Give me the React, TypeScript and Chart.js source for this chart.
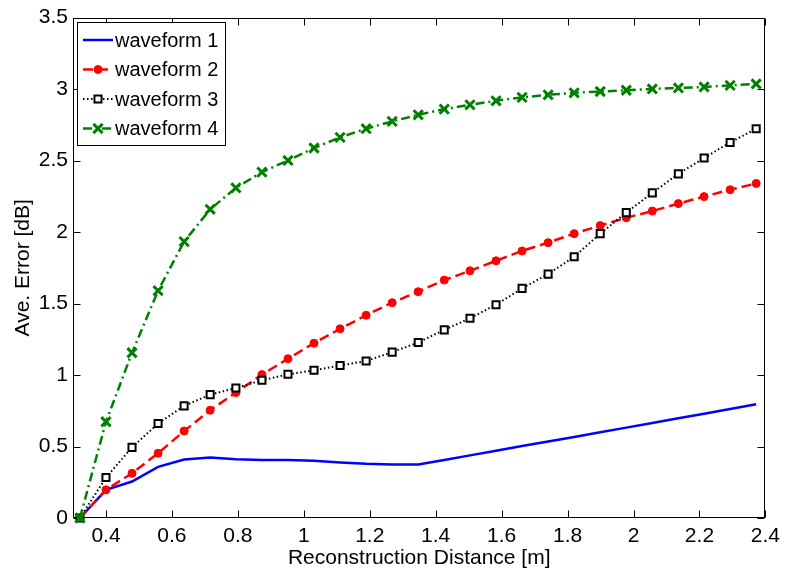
import React, { useEffect, useRef } from 'react';
import { Chart, registerables } from 'chart.js';

Chart.register(...registerables);

// ---- data ----
const xValues = [
  0.321, 0.400, 0.479, 0.558, 0.637, 0.716, 0.794, 0.873, 0.952, 1.031, 1.110, 1.189, 1.268, 1.347,
  1.426, 1.504, 1.583, 1.662, 1.741, 1.820, 1.899, 1.978, 2.057, 2.136, 2.214, 2.293, 2.372,
];
const waveform1 = [
  0, 0.197, 0.255, 0.358, 0.409, 0.423, 0.411, 0.406, 0.405, 0.401, 0.389, 0.379, 0.374, 0.374,
  0.406, 0.438, 0.470, 0.503, 0.535, 0.567, 0.600, 0.632, 0.664, 0.697, 0.729, 0.762, 0.796,
];
const waveform2 = [
  0, 0.197, 0.313, 0.453, 0.608, 0.754, 0.877, 1.003, 1.114, 1.223, 1.323, 1.418, 1.506, 1.583,
  1.664, 1.729, 1.799, 1.868, 1.926, 1.989, 2.045, 2.100, 2.147, 2.199, 2.248, 2.296, 2.340,
];
const waveform3 = [
  0, 0.283, 0.494, 0.661, 0.784, 0.863, 0.909, 0.963, 1.005, 1.033, 1.067, 1.098, 1.160, 1.228,
  1.316, 1.397, 1.492, 1.606, 1.706, 1.827, 1.989, 2.136, 2.274, 2.407, 2.518, 2.627, 2.723,
];
const waveform4 = [
  0, 0.673, 1.156, 1.590, 1.933, 2.159, 2.309, 2.419, 2.501, 2.588, 2.662, 2.723, 2.774, 2.820,
  2.860, 2.890, 2.918, 2.942, 2.960, 2.974, 2.983, 2.992, 3.001, 3.008, 3.015, 3.026, 3.036,
];
const seriesNames = ['waveform 1', 'waveform 2', 'waveform 3', 'waveform 4'];
const xTickValues = [0.4, 0.6, 0.8, 1.0, 1.2, 1.4, 1.6, 1.8, 2.0, 2.2, 2.4];
const yTickValues = [0, 0.5, 1.0, 1.5, 2.0, 2.5, 3.0, 3.5];
const xTitle = 'Reconstruction Distance [m]';
const yTitle = 'Ave. Error [dB]';

const FONT = 'Arial, "Liberation Sans", Helvetica, sans-serif';

const toPoints = (ys: number[]) => xValues.map((x, i) => ({ x, y: ys[i] }));

const fmt = (v: number) => String(Number(v.toFixed(2)));

const framePlugin = {
  id: 'matlabFrame',
  beforeDatasetsDraw(chart: any) {
    const { ctx, chartArea: a, scales } = chart;
    ctx.save();
    ctx.strokeStyle = '#000';
    ctx.lineWidth = 1;
    const L = Math.round(a.left) + 0.5;
    const R = Math.round(a.right) - 0.5;
    const T = Math.round(a.top) + 0.5;
    const B = Math.round(a.bottom) - 0.5;
    ctx.strokeRect(L, T, R - L, B - T);
    ctx.beginPath();
    const tl = 7;
    for (const t of scales.x.ticks) {
      const px = Math.round(scales.x.getPixelForValue(t.value)) + 0.5;
      ctx.moveTo(px, B);
      ctx.lineTo(px, B - tl);
      ctx.moveTo(px, T);
      ctx.lineTo(px, T + tl);
    }
    for (const t of scales.y.ticks) {
      const py = Math.round(scales.y.getPixelForValue(t.value)) + 0.5;
      ctx.moveTo(L, py);
      ctx.lineTo(L + tl, py);
      ctx.moveTo(R, py);
      ctx.lineTo(R - tl, py);
    }
    ctx.stroke();
    ctx.restore();
  },
};

function drawMarker(ctx: CanvasRenderingContext2D, style: string, x: number, y: number, r: number, fill: string, stroke: string, lw: number) {
  ctx.save();
  ctx.setLineDash([]);
  ctx.lineWidth = lw;
  ctx.strokeStyle = stroke;
  ctx.fillStyle = fill;
  ctx.beginPath();
  if (style === 'circle') {
    ctx.arc(x, y, r, 0, Math.PI * 2);
    ctx.fill();
    ctx.stroke();
  } else if (style === 'rect') {
    const s = Math.SQRT1_2 * r;
    ctx.rect(x - s, y - s, 2 * s, 2 * s);
    ctx.fill();
    ctx.stroke();
  } else if (style === 'crossRot') {
    const s = Math.SQRT1_2 * r;
    ctx.moveTo(x - s, y - s);
    ctx.lineTo(x + s, y + s);
    ctx.moveTo(x - s, y + s);
    ctx.lineTo(x + s, y - s);
    ctx.stroke();
  }
  ctx.restore();
}

const legendPlugin = {
  id: 'matlabLegend',
  afterDraw(chart: any) {
    const { ctx } = chart;
    const bx = 77.5, by = 22.5, bw = 148, bh = 123;
    ctx.save();
    ctx.fillStyle = '#fff';
    ctx.fillRect(bx, by, bw, bh);
    ctx.strokeStyle = '#000';
    ctx.lineWidth = 1;
    ctx.strokeRect(bx, by, bw, bh);
    chart.data.datasets.forEach((ds: any, i: number) => {
      const y = 40 + i * 29.5;
      ctx.save();
      ctx.strokeStyle = ds.borderColor;
      ctx.lineWidth = ds.borderWidth;
      ctx.setLineDash(ds.borderDash || []);
      ctx.beginPath();
      ctx.moveTo(83, y);
      ctx.lineTo(113, y);
      ctx.stroke();
      ctx.restore();
      if (ds.pointRadius > 0) {
        drawMarker(ctx, ds.pointStyle, 98, y, ds.pointRadius, ds.pointBackgroundColor, ds.pointBorderColor, ds.pointBorderWidth);
      }
      ctx.fillStyle = '#000';
      ctx.font = `20px ${FONT}`;
      ctx.textAlign = 'left';
      ctx.textBaseline = 'middle';
      ctx.fillText(ds.label, 115, y + 1);
    });
    ctx.restore();
  },
};

export default function App() {
  const canvasRef = useRef<HTMLCanvasElement | null>(null);

  useEffect(() => {
    document.body.style.margin = '0';
    const canvas = canvasRef.current;
    if (!canvas) return;
    const chart = new Chart(canvas, {
      type: 'line',
      data: {
        datasets: [
          {
            label: seriesNames[0],
            data: toPoints(waveform1),
            borderColor: '#0000ff',
            borderWidth: 2.5,
            borderDash: [],
            pointRadius: 0,
            pointStyle: 'circle',
            pointBackgroundColor: '#0000ff',
            pointBorderColor: '#0000ff',
            pointBorderWidth: 1,
            order: 3,
          },
          {
            label: seriesNames[1],
            data: toPoints(waveform2),
            borderColor: '#ff0000',
            borderWidth: 2.5,
            borderDash: [10, 5],
            pointRadius: 4,
            pointStyle: 'circle',
            pointBackgroundColor: '#ff0000',
            pointBorderColor: '#ff0000',
            pointBorderWidth: 1,
            order: 2,
          },
          {
            label: seriesNames[2],
            data: toPoints(waveform3),
            borderColor: '#000000',
            borderWidth: 2,
            borderDash: [1.5, 2.5],
            pointRadius: 5,
            pointStyle: 'rect',
            pointBackgroundColor: '#ffffff',
            pointBorderColor: '#000000',
            pointBorderWidth: 2,
            order: 1,
          },
          {
            label: seriesNames[3],
            data: toPoints(waveform4),
            borderColor: '#008000',
            borderWidth: 2.5,
            borderDash: [9, 4, 2, 4],
            pointRadius: 6.5,
            pointStyle: 'crossRot',
            pointBackgroundColor: '#008000',
            pointBorderColor: '#008000',
            pointBorderWidth: 3,
            order: 0,
          },
        ],
      },
      options: {
        responsive: false,
        animation: false,
        clip: false as any,
        layout: { padding: { top: 16, right: 18, left: 0, bottom: 0 } },
        elements: { line: { tension: 0 } },
        plugins: { legend: { display: false }, tooltip: { enabled: false } },
        scales: {
          x: {
            type: 'linear',
            min: 0.3,
            max: 2.4,
            afterBuildTicks: (s: any) => {
              s.ticks = xTickValues.map((v) => ({ value: v }));
            },
            afterFit: (s: any) => {
              s.height = 56;
            },
            grid: { display: false, drawTicks: false },
            border: { display: false },
            ticks: {
              color: '#000',
              padding: 6,
              maxRotation: 0,
              autoSkip: false,
              font: { family: FONT, size: 21 },
              callback: (v: any) => fmt(Number(v)),
            },
            title: {
              display: true,
              text: xTitle,
              color: '#000',
              font: { family: FONT, size: 21 },
              padding: { top: 0, bottom: 3 },
            },
          },
          y: {
            type: 'linear',
            min: 0,
            max: 3.5,
            afterBuildTicks: (s: any) => {
              s.ticks = yTickValues.map((v) => ({ value: v }));
            },
            afterFit: (s: any) => {
              s.width = 73;
            },
            grid: { display: false, drawTicks: false },
            border: { display: false },
            ticks: {
              color: '#000',
              padding: 5,
              autoSkip: false,
              font: { family: FONT, size: 21 },
              callback: (v: any) => fmt(Number(v)),
            },
            title: {
              display: true,
              text: yTitle,
              color: '#000',
              font: { family: FONT, size: 21 },
              padding: { top: 11, bottom: 0 },
            },
          },
        },
      },
      plugins: [framePlugin, legendPlugin],
    } as any);
    return () => chart.destroy();
  }, []);

  return (
    <div style={{ width: 786, height: 574, background: '#fff' }}>
      <canvas ref={canvasRef} width={786} height={574} style={{ display: 'block' }} />
    </div>
  );
}
